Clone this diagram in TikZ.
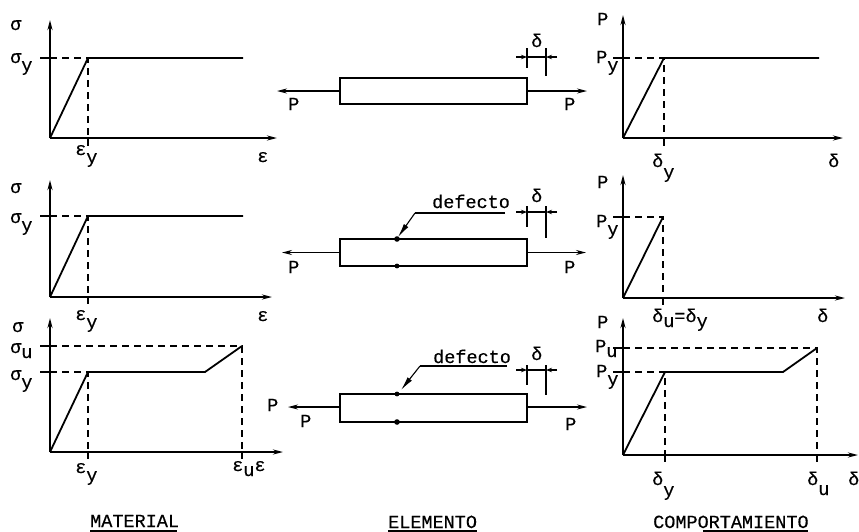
\documentclass[tikz,border=0pt]{standalone}
\usepackage{fontspec}
\setmainfont{Liberation Mono}[FakeBold=0.4]
\usetikzlibrary{arrows.meta}
% lowered index letter, typewriter style
\newcommand{\lo}[2][8pt]{\raisebox{-#1}{#2}}

\begin{document}
\begin{tikzpicture}[x=1pt,y=-1pt,
  font=\fontsize{18.5}{20}\selectfont,
  axis/.style={line width=1.9pt,-{Stealth[length=10pt,width=5pt]}},
  curve/.style={line width=1.8pt,line join=miter},
  guide/.style={line width=1.3pt,dash pattern=on 7pt off 5pt},
  tickline/.style={line width=1.4pt},
  lbl/.style={inner sep=0pt,anchor=base west},
  bar/.style={line width=1.6pt},
  force/.style={line width=1.3pt,-{Stealth[length=10pt,width=5pt]}},
  dimline/.style={line width=1.1pt},
  dimtip/.style={line width=1.1pt,-{Stealth[length=6pt,width=4.5pt]}},
  leader/.style={line width=1.1pt,-{Latex[length=14pt,width=5.5pt]}},
  ulin/.style={line width=1.1pt}]
\useasboundingbox (0,0) rectangle (859,531);

% ================= MATERIAL column =================
% --- row 1: elastic-perfectly plastic
\coordinate (a1o) at (50,138);
\coordinate (a1y) at (50,20);
\coordinate (a1x) at (277,138);
\coordinate (a1k) at (88,58);
\coordinate (a1e) at (243,58);
\coordinate (a1t) at (40,58);
\coordinate (a1b) at (88,146);
\draw[axis] (a1o) -- (a1y);
\draw[axis] (a1o) -- (a1x);
\draw[tickline] (a1t) -- (a1o |- a1k);
\draw[guide] (a1o |- a1k) -- (a1k) -- (a1o -| a1k);
\draw[tickline] (a1o -| a1k) -- (a1b);
\draw[curve] (a1o) -- (a1k) -- (a1e);
\node[lbl] (s1) at (10,30) {σ};
\node[lbl] (s1y) at (10,63) {σ\lo{y}};
\node[lbl] (e1y) at (75,155) {ε\lo{y}};
\node[lbl] (e1) at (257,162) {ε};

% --- row 2
\coordinate (a2o) at (50,297);
\coordinate (a2y) at (50,180);
\coordinate (a2x) at (272,297);
\coordinate (a2k) at (88,216);
\coordinate (a2e) at (243,216);
\coordinate (a2t) at (40,216);
\coordinate (a2b) at (88,304);
\draw[axis] (a2o) -- (a2y);
\draw[axis] (a2o) -- (a2x);
\draw[tickline] (a2t) -- (a2o |- a2k);
\draw[guide] (a2o |- a2k) -- (a2k) -- (a2o -| a2k);
\draw[tickline] (a2o -| a2k) -- (a2b);
\draw[curve] (a2o) -- (a2k) -- (a2e);
\node[lbl] (s2) at (10,193) {σ};
\node[lbl] (s2y) at (10,223) {σ\lo{y}};
\node[lbl] (e2y) at (75,320) {ε\lo{y}};
\node[lbl] (e2) at (257,321) {ε};

% --- row 3: with hardening
\coordinate (a3o) at (50,452);
\coordinate (a3y) at (50,318);
\coordinate (a3x) at (283,452);
\coordinate (a3k) at (88,372);
\coordinate (a3h) at (205,372);
\coordinate (a3u) at (242,346);
\coordinate (a3t) at (40,372);
\coordinate (a3tu) at (40,346);
\coordinate (a3b) at (88,459);
\coordinate (a3bu) at (242,459);
\draw[axis] (a3o) -- (a3y);
\draw[axis] (a3o) -- (a3x);
\draw[tickline] (a3t) -- (a3o |- a3k);
\draw[tickline] (a3tu) -- (a3o |- a3u);
\draw[guide] (a3o |- a3k) -- (a3k) -- (a3o -| a3k);
\draw[guide] (a3o |- a3u) -- (a3u) -- (a3o -| a3u);
\draw[tickline] (a3o -| a3k) -- (a3b);
\draw[tickline] (a3o -| a3u) -- (a3bu);
\draw[curve] (a3o) -- (a3k) -- (a3h) -- (a3u);
\node[lbl] (s3) at (12,332) {σ};
\node[lbl] (s3u) at (10,353) {σ\lo[5pt]{u}};
\node[lbl] (s3y) at (10,380) {σ\lo{y}};
\node[lbl] (e3y) at (75,473) {ε\lo{y}};
\node[lbl] (e3u) at (232,471) {ε\lo[5pt]{u}ε};

\node[lbl] (mat) at (90,527) {MATERIAL};
\coordinate (matl) at (90,531);
\coordinate (matr) at (177,531);
\draw[ulin] (matl) -- (matr);

% ================= ELEMENTO column =================
% --- row 1: perfect bar
\node[draw,bar,minimum width=187pt,minimum height=26pt,inner sep=0pt] (b1) at (433.5,91) {};
\coordinate (b1l) at (277,91);
\coordinate (b1r) at (587,91);
\draw[force] (b1.west) -- (b1l);
\draw[force] (b1.east) -- (b1r);
\coordinate (d1a) at (527,48);
\coordinate (d1ab) at (527,68);
\coordinate (d1b) at (546,48);
\coordinate (d1bb) at (546,76);
\coordinate (d1l) at (516,57);
\coordinate (d1r) at (557,57);
\draw[dimline] (d1a) -- (d1ab);
\draw[dimline] (d1b) -- (d1bb);
\draw[dimtip] (d1l) -- (d1l -| d1a);
\draw[dimtip] (d1r) -- (d1r -| d1b);
\draw[dimline] (d1l -| d1a) -- (d1r -| d1b);
\node[lbl] (dl1) at (531,47) {δ};
\node[lbl] (p1l) at (288,110) {P};
\node[lbl] (p1r) at (564,110) {P};

% --- row 2: bar with defect
\node[draw,bar,minimum width=187pt,minimum height=27pt,inner sep=0pt] (b2) at (433.5,252.5) {};
\coordinate (b2l) at (282,252.5);
\coordinate (b2r) at (586,252.5);
\draw[force] (b2.west) -- (b2l);
\draw[force] (b2.east) -- (b2r);
\coordinate (f2t) at (397,239);
\coordinate (f2b) at (397,266);
\fill (f2t) circle (2.8pt);
\fill (f2b) circle (2.4pt);
\coordinate (g2k) at (415,213);
\coordinate (g2e) at (505,213);
\coordinate (g2p) at (398,237);
\draw[dimline] (g2e) -- (g2k);
\draw[leader] (g2k) -- (g2p);
\node[lbl] (df2) at (432,208) {defecto};
\coordinate (d2a) at (527,206);
\coordinate (d2ab) at (527,227);
\coordinate (d2b) at (546,206);
\coordinate (d2bb) at (546,238);
\coordinate (d2l) at (516,212);
\coordinate (d2r) at (557,212);
\draw[dimline] (d2a) -- (d2ab);
\draw[dimline] (d2b) -- (d2bb);
\draw[dimtip] (d2l) -- (d2l -| d2a);
\draw[dimtip] (d2r) -- (d2r -| d2b);
\draw[dimline] (d2l -| d2a) -- (d2r -| d2b);
\node[lbl] (dl2) at (531,202) {δ};
\node[lbl] (p2l) at (288,273) {P};
\node[lbl] (p2r) at (564,273) {P};

% --- row 3: bar with defect, hardening
\node[draw,bar,minimum width=187pt,minimum height=28pt,inner sep=0pt] (b3) at (433.5,408) {};
\coordinate (b3l) at (288,407);
\coordinate (b3r) at (587,407);
\draw[force] (b3.west |- b3l) -- (b3l);
\draw[force] (b3.east |- b3r) -- (b3r);
\coordinate (f3t) at (397,394);
\coordinate (f3b) at (397,422);
\fill (f3t) circle (2.4pt);
\fill (f3b) circle (2.8pt);
\coordinate (g3k) at (420,366);
\coordinate (g3e) at (507,366);
\coordinate (g3p) at (401,390);
\draw[dimline] (g3e) -- (g3k);
\draw[leader] (g3k) -- (g3p);
\node[lbl] (df3) at (433,363) {defecto};
\coordinate (d3a) at (527,365);
\coordinate (d3ab) at (527,385);
\coordinate (d3b) at (546,365);
\coordinate (d3bb) at (546,395);
\coordinate (d3l) at (516,370);
\coordinate (d3r) at (557,370);
\draw[dimline] (d3a) -- (d3ab);
\draw[dimline] (d3b) -- (d3bb);
\draw[dimtip] (d3l) -- (d3l -| d3a);
\draw[dimtip] (d3r) -- (d3r -| d3b);
\draw[dimline] (d3l -| d3a) -- (d3r -| d3b);
\node[lbl] (dl3) at (531,360) {δ};
\node[lbl] (p3a) at (267,411) {P};
\node[lbl] (p3l) at (300,427) {P};
\node[lbl] (p3r) at (565,430) {P};

\node[lbl] (ele) at (388,528) {ELEMENTO};
\coordinate (elel) at (388,531);
\coordinate (eler) at (477,531);
\draw[ulin] (elel) -- (eler);

% ================= COMPORTAMIENTO column =================
% --- row 1
\coordinate (c1o) at (623,138);
\coordinate (c1y) at (623,15);
\coordinate (c1x) at (843,138);
\coordinate (c1k) at (664,58);
\coordinate (c1e) at (819,58);
\coordinate (c1t) at (613,58);
\coordinate (c1b) at (664,146);
\draw[axis] (c1o) -- (c1y);
\draw[axis] (c1o) -- (c1x);
\draw[tickline] (c1t) -- (c1o |- c1k);
\draw[guide] (c1o |- c1k) -- (c1k) -- (c1o -| c1k);
\draw[tickline] (c1o -| c1k) -- (c1b);
\draw[curve] (c1o) -- (c1k) -- (c1e);
\node[lbl] (q1) at (597,25) {P};
\node[lbl] (q1y) at (596,63) {P\lo{y}};
\node[lbl] (r1y) at (652,167) {δ\lo[11pt]{y}};
\node[lbl] (r1) at (828,167) {δ};

% --- row 2: brittle
\coordinate (c2o) at (623,298);
\coordinate (c2y) at (623,175);
\coordinate (c2x) at (845,298);
\coordinate (c2k) at (663,217);
\coordinate (c2t) at (613,217);
\coordinate (c2b) at (663,305);
\draw[axis] (c2o) -- (c2y);
\draw[axis] (c2o) -- (c2x);
\draw[tickline] (c2t) -- (c2o |- c2k);
\draw[guide] (c2o |- c2k) -- (c2k) -- (c2o -| c2k);
\draw[tickline] (c2o -| c2k) -- (c2b);
\draw[curve] (c2o) -- (c2k);
\node[lbl] (q2) at (597,188) {P};
\node[lbl] (q2y) at (596,227) {P\lo{y}};
\node[lbl] (r2u) at (652,322) {δ\lo[5pt]{u}=δ\lo[5pt]{y}};
\node[lbl] (r2) at (817,322) {δ};

% --- row 3: hardening
\coordinate (c3o) at (623,455);
\coordinate (c3y) at (623,318);
\coordinate (c3x) at (858,455);
\coordinate (c3k) at (665,372);
\coordinate (c3h) at (783,372);
\coordinate (c3u) at (817,348);
\coordinate (c3t) at (613,372);
\coordinate (c3tu) at (613,348);
\coordinate (c3b) at (665,462);
\coordinate (c3bu) at (817,462);
\draw[axis] (c3o) -- (c3y);
\draw[axis] (c3o) -- (c3x);
\draw[tickline] (c3t) -- (c3o |- c3k);
\draw[tickline] (c3tu) -- (c3o |- c3u);
\draw[guide] (c3o |- c3k) -- (c3k) -- (c3o -| c3k);
\draw[guide] (c3o |- c3u) -- (c3u) -- (c3o -| c3u);
\draw[tickline] (c3o -| c3k) -- (c3b);
\draw[tickline] (c3o -| c3u) -- (c3bu);
\draw[curve] (c3o) -- (c3k) -- (c3h) -- (c3u);
\node[lbl] (q3) at (597,328) {P};
\node[lbl] (q3u) at (595,352) {P\lo[5pt]{u}};
\node[lbl] (q3y) at (596,377) {P\lo{y}};
\node[lbl] (r3y) at (652,485) {δ\lo[11pt]{y}};
\node[lbl] (r3u) at (807,485) {δ\lo[10pt]{u}};
\node[lbl] (r3) at (848,485) {δ};

\node[lbl] (com) at (653,528) {COMPORTAMIENTO};
\coordinate (coml) at (703,531);
\coordinate (comr) at (808,531);
\draw[ulin] (coml) -- (comr);
\end{tikzpicture}
\end{document}
